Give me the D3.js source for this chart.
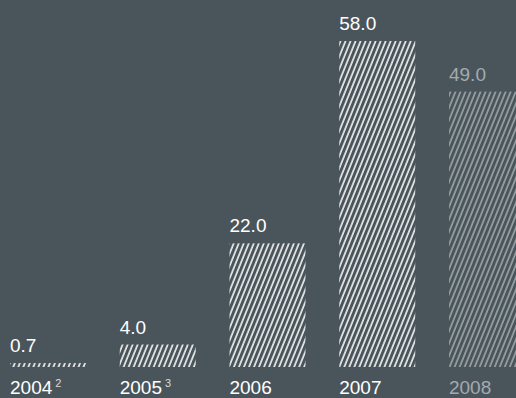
<!DOCTYPE html>
<html>
<head>
<meta charset="utf-8">
<script src="https://cdn.jsdelivr.net/npm/d3@7/dist/d3.min.js"></script>
<style>
  html, body { margin: 0; padding: 0; background: #4a555b; }
  svg { display: block; }
  text { font-family: "Liberation Sans", Arial, sans-serif; }
</style>
</head>
<body>
<script>
// Yearly values, one bar per year
const years = ["2004", "2005", "2006", "2007", "2008"];
const values = [0.7, 4.0, 22.0, 58.0, 49.0];
const notes = ["2", "3", "", "", ""];
// the last year is shown in a muted tone
const muted = [false, false, false, false, true];

const W = 516, H = 398;
const bg = "#4a555b";
const bright = "#ffffff";
const dim = "#a3abaf";

const svg = d3.select("body").append("svg")
  .attr("width", W).attr("height", H);

svg.append("rect").attr("width", W).attr("height", H).attr("fill", bg);

// diagonal hatch fills
const defs = svg.append("defs");
function hatch(id, color) {
  const p = defs.append("pattern")
    .attr("id", id)
    .attr("patternUnits", "userSpaceOnUse")
    .attr("width", 4.65).attr("height", 10)
    .attr("patternTransform", "rotate(22)");
  p.append("line")
    .attr("x1", 1).attr("x2", 1)
    .attr("y1", -1).attr("y2", 11)
    .attr("stroke", color).attr("stroke-width", 1.5);
}
hatch("hatch-bright", bright);
hatch("hatch-dim", dim);

const x = d3.scaleBand()
  .domain(years)
  .range([10, 525])
  .paddingInner(0.3075)
  .paddingOuter(0)
  .align(0);

const y = d3.scaleLinear()
  .domain([0, 58])
  .range([367, 41]);

const data = years.map((yr, i) => ({ yr, v: values[i], note: notes[i], muted: muted[i] }));

const g = svg.append("g");

g.selectAll("rect.bar")
  .data(data)
  .join("rect")
  .attr("class", "bar")
  .attr("x", d => x(d.yr))
  .attr("y", d => y(d.v))
  .attr("width", x.bandwidth())
  .attr("height", d => y(0) - y(d.v))
  .attr("fill", d => d.muted ? "url(#hatch-dim)" : "url(#hatch-bright)");

// value labels above bars
g.selectAll("text.val")
  .data(data)
  .join("text")
  .attr("class", "val")
  .attr("x", d => x(d.yr))
  .attr("y", d => y(d.v) - 11)
  .attr("font-size", 19)
  .attr("fill", d => d.muted ? dim : bright)
  .text(d => d3.format(".1f")(d.v));

// year labels with footnote markers
const yl = g.selectAll("text.year")
  .data(data)
  .join("text")
  .attr("class", "year")
  .attr("x", d => x(d.yr))
  .attr("y", 394)
  .attr("font-size", 19)
  .attr("fill", d => d.muted ? dim : bright);
yl.append("tspan").text(d => d.yr);
yl.filter(d => d.note)
  .append("tspan")
  .attr("dx", 3)
  .attr("dy", -7)
  .attr("font-size", 11)
  .attr("fill", "#d8dcde")
  .text(d => d.note);
</script>
</body>
</html>
